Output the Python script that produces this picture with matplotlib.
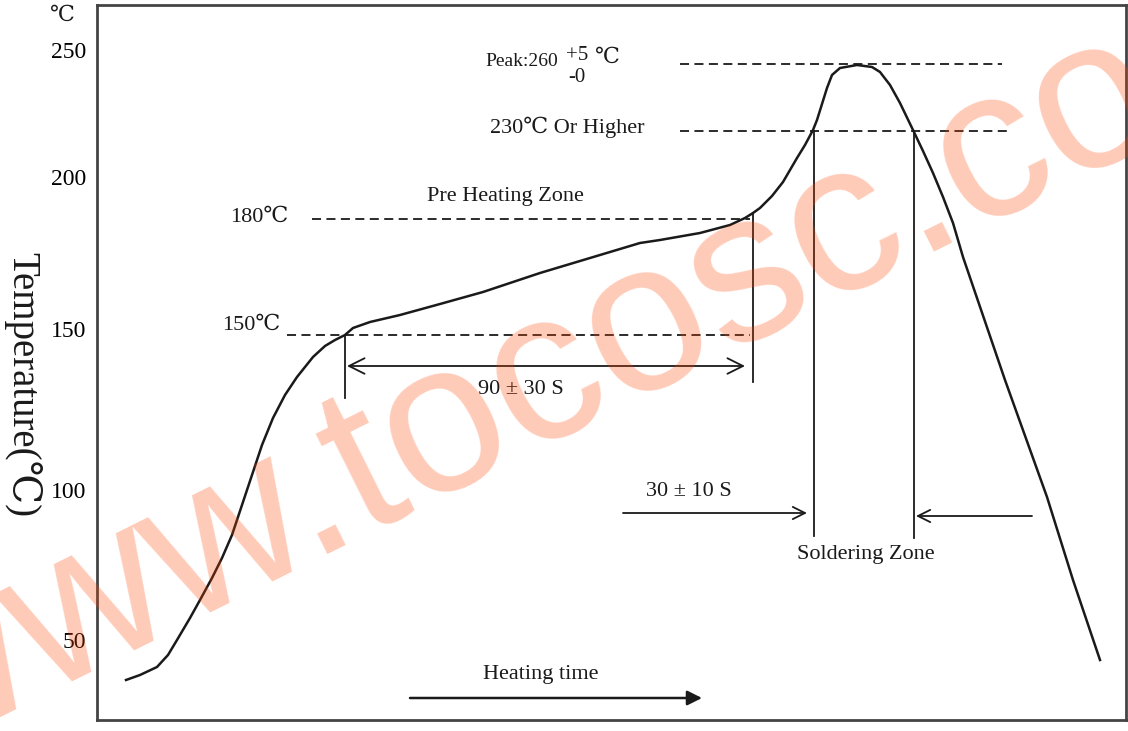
import matplotlib.pyplot as plt
import numpy as np

# reflow profile (time / level in chart units)
profile_time = [29, 43, 60, 71, 80, 93, 103, 115, 125, 135, 145, 155, 165,
                176, 188, 200, 216, 228, 238, 248, 256, 273, 303, 343, 386,
                443, 503, 543, 563, 603, 633, 648, 656, 663, 675, 686, 693,
                700, 708, 716, 720, 725, 730, 735, 743, 760, 775, 783, 793,
                803, 816, 826, 836, 846, 856, 866, 908, 950, 976, 1003]
profile_level = [40, 45, 53, 65, 80, 102, 120, 142, 162, 185, 215, 245, 275,
                 302, 325, 343, 363, 374, 380, 385, 392, 398, 405, 416, 428,
                 447, 465, 477, 480, 487, 495, 502, 507, 512, 524, 538, 550,
                 562, 575, 590, 600, 616, 632, 645, 652, 655, 653, 648, 635,
                 617, 590, 569, 547, 523, 497, 463, 340, 223, 140, 60]

ytick_pos = [80, 230, 391, 543, 670]
ytick_labels = ["50", "100", "150", "200", "250"]

# reference levels (chart units) and the x-range of each guide line
level_150, level_180, level_230, level_peak = 385, 501, 589, 656
preheat_start, preheat_end = 248, 656
solder_start, solder_end = 717, 817

SERIF = ["Liberation Serif", "DejaVu Serif"]
INK = "#1a1a1a"

fig = plt.figure(figsize=(11.28, 7.31), dpi=100)
ax = fig.add_axes([97 / 1128, 11 / 731, 1029 / 1128, 715 / 731])
ax.set_xlim(0, 1029)
ax.set_ylim(0, 715)
ax.set_xticks([])
ax.set_yticks(ytick_pos)
ax.set_yticklabels(ytick_labels, family=SERIF, fontsize=17)
ax.tick_params(axis="y", length=0, pad=8)
for sp in ax.spines.values():
    sp.set_linewidth(2)
    sp.set_color("#444444")

ax.plot(profile_time, profile_level, color=INK, lw=1.8, solid_joinstyle="round")

dash = dict(color=INK, lw=1.3, ls=(0, (5, 3)))
ax.plot([190, 653], [level_150] * 2, **dash)
ax.plot([215, 653], [level_180] * 2, **dash)
ax.plot([583, 911], [level_230] * 2, **dash)
ax.plot([583, 905], [level_peak] * 2, **dash)

solid = dict(color=INK, lw=1.3)
ax.plot([preheat_start] * 2, [level_150, 322], **solid)
ax.plot([preheat_end] * 2, [507, 338], **solid)
ax.plot([solder_start] * 2, [level_230, 184], **solid)
ax.plot([solder_end] * 2, [level_230, 182], **solid)

ax.annotate("", xy=(preheat_start + 2, 354), xytext=(preheat_end - 8, 354),
            arrowprops=dict(arrowstyle="<->", color=INK, lw=1.3,
                            mutation_scale=28, shrinkA=0, shrinkB=0))
ax.annotate("", xy=(solder_start - 7, 207), xytext=(526, 207),
            arrowprops=dict(arrowstyle="->", color=INK, lw=1.3,
                            mutation_scale=22, shrinkA=0, shrinkB=0))
ax.annotate("", xy=(solder_end + 2, 204), xytext=(935, 204),
            arrowprops=dict(arrowstyle="->", color=INK, lw=1.3,
                            mutation_scale=22, shrinkA=0, shrinkB=0))
ax.annotate("", xy=(605, 22), xytext=(313, 22),
            arrowprops=dict(arrowstyle="-|>", color=INK, lw=1.8,
                            mutation_scale=22, shrinkA=0, shrinkB=0))

txt = dict(family=SERIF, color=INK, fontsize=16, va="center")
ax.text(408, 524, "Pre Heating Zone", ha="center", **txt)
ax.text(162, 503, "180℃", ha="center", **txt)
ax.text(154, 395, "150℃", ha="center", **txt)
ax.text(424, 331, "90 ± 30 S", ha="center", **txt)
ax.text(592, 228, "30 ± 10 S", ha="center", **txt)
ax.text(769, 166, "Soldering Zone", ha="center", **txt)
ax.text(444, 45, "Heating time", ha="center", **txt)
ax.text(470, 593, "230℃ Or Higher", ha="center", **txt)
ax.text(425, 658, "Peak:260", ha="center", family=SERIF, color=INK,
        fontsize=14, va="center")
ax.text(480, 665, "+5", ha="center", family=SERIF, color=INK,
        fontsize=15, va="center")
ax.text(480, 642, "-0", ha="center", family=SERIF, color=INK,
        fontsize=15, va="center")
ax.text(510, 662, "℃", ha="center", family=SERIF, color=INK,
        fontsize=16, va="center")

fig.text(62 / 1128, 1 - 16 / 731, "℃", family=SERIF, fontsize=16,
         ha="center", va="center", color=INK)
fig.text(22 / 1128, 1 - 385 / 731, "Temperature(℃)", family=SERIF,
         fontsize=28, rotation=270, ha="center", va="center", color=INK)

# watermark
fig.text(-0.083, -0.045, "www.tocosc.com", family=["Liberation Sans", "DejaVu Sans"],
         fontsize=154, rotation=26.5, rotation_mode="anchor", ha="left",
         va="baseline", color="#FF4500", alpha=0.28)

fig.savefig("out.png", dpi=100)
